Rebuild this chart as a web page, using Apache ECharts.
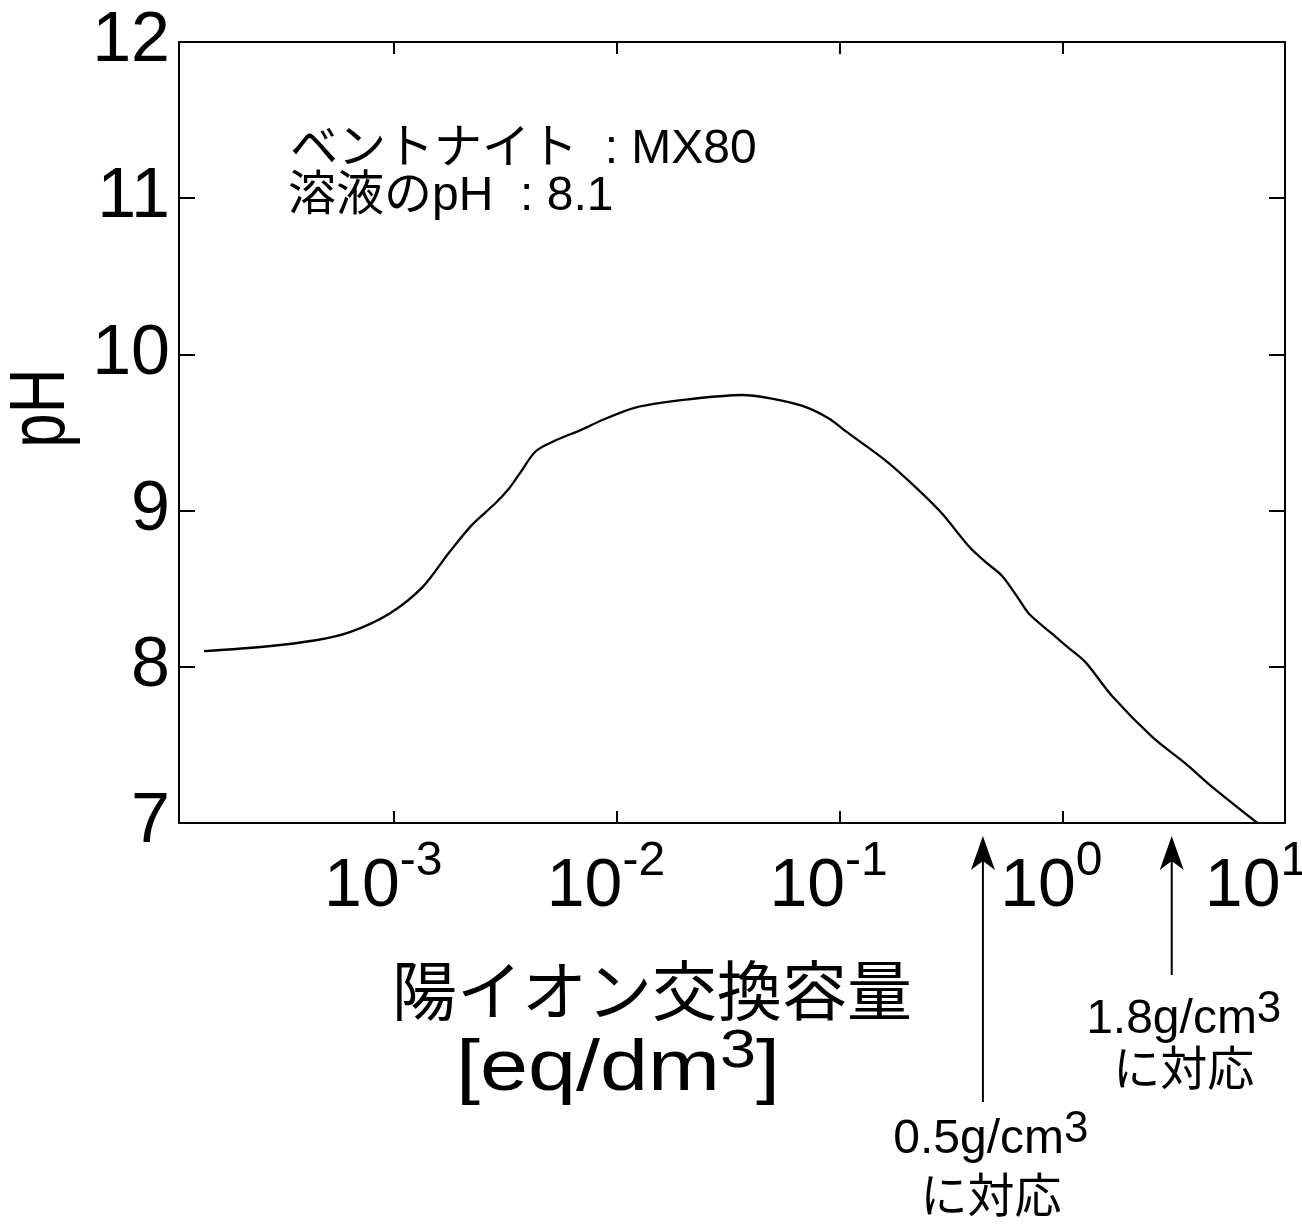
<!DOCTYPE html>
<html>
<head>
<meta charset="utf-8">
<title>陽イオン交換容量とpH</title>
<script src="https://cdn.jsdelivr.net/npm/echarts@6/dist/echarts.min.js"></script>
<style>
  html, body { margin: 0; padding: 0; background: #fff; }
  #chart { width: 1302px; height: 1227px; }
</style>
</head>
<body>
<div id="chart"></div>
<script>
// 陽イオン交換容量 [eq/dm3]
const cecValues = [1.40e-4, 2.65e-4, 4.44e-4, 6.27e-4, 9.5e-4, 1.34e-3, 1.76e-3, 2.24e-3, 2.86e-3, 3.27e-3,
  3.63e-3, 4.32e-3, 5.31e-3, 7.0e-3, 8.6e-3, 1.21e-2, 2.03e-2, 3.66e-2, 4.82e-2, 6.81e-2,
  8.95e-2, 0.106, 0.161, 0.227, 0.289, 0.381, 0.453, 0.538, 0.640, 0.708,
  0.902, 1.07, 1.27, 1.68, 2.54, 3.58, 4.72, 7.52];
// pH
const phValues = [8.10, 8.13, 8.17, 8.22, 8.34, 8.51, 8.73, 8.91, 9.05, 9.14,
  9.23, 9.38, 9.45, 9.52, 9.58, 9.66, 9.71, 9.74, 9.72, 9.67,
  9.59, 9.51, 9.32, 9.13, 8.98, 8.77, 8.67, 8.58, 8.43, 8.34,
  8.21, 8.12, 8.03, 7.81, 7.55, 7.38, 7.23, 7.0];
// 乾燥密度に対応する陽イオン交換容量
const densityCec = [0.44, 3.1];
const densityLabels = ['0.5g/cm', '1.8g/cm'];
// 軸の範囲
const xRange = [1.08e-4, 10];
const yRange = [7, 12];

const chart = echarts.init(document.getElementById('chart'));

const black = '#000';
const latin = '"Liberation Sans", Arial, Helvetica, sans-serif';
const jp = '"Liberation Sans", "Noto Sans CJK JP", sans-serif';

// 10のべき乗ラベル（右端のラベルは枠内に寄せる）
const powerLabel = (v) => {
  const lg = Math.log10(v);
  const e = Math.round(lg);
  if (Math.abs(lg - e) > 1e-6) return '';
  const edge = Math.abs(lg - Math.log10(xRange[1])) < 1e-6;
  return '{b|10}{' + (edge ? 'se' : 's') + '|' + e + '}';
};

const xAxisBase = {
  type: 'log',
  logBase: 10,
  min: xRange[0],
  max: xRange[1],
  axisLine: { show: true, lineStyle: { color: black, width: 2 } },
  axisTick: { show: true, inside: true, length: 12, lineStyle: { color: black, width: 2 } },
  minorTick: { show: false },
  splitLine: { show: false }
};

const yAxisBase = {
  type: 'value',
  min: yRange[0],
  max: yRange[1],
  interval: 1,
  axisLine: { show: true, lineStyle: { color: black, width: 2 } },
  axisTick: { show: true, inside: true, length: 16, lineStyle: { color: black, width: 2 } },
  splitLine: { show: false }
};

const supStyle = { fontFamily: latin, fontSize: 48, lineHeight: 48, color: black, verticalAlign: 'top' };

chart.setOption({
  backgroundColor: '#fff',
  animation: false,
  grid: { left: 179, right: 17, top: 42, bottom: 404, containLabel: false, outerBoundsMode: 'none' },
  xAxis: [
    {
      ...xAxisBase,
      position: 'bottom',
      axisLabel: {
        showMinLabel: false,
        margin: 15,
        color: black,
        formatter: powerLabel,
        rich: {
          b: { fontFamily: latin, fontSize: 68, lineHeight: 98, color: black },
          s: { ...supStyle, padding: [0, 22, 0, 0] },
          se: { ...supStyle, padding: [0, 58, 0, 0] }
        }
      }
    },
    { ...xAxisBase, position: 'top', axisLabel: { show: false } }
  ],
  yAxis: [
    {
      ...yAxisBase,
      position: 'left',
      axisLabel: { margin: 9, color: black, fontFamily: latin, fontSize: 70 }
    },
    { ...yAxisBase, position: 'right', axisLabel: { show: false } }
  ],
  series: [
    {
      type: 'line',
      data: cecValues.map((c, i) => [c, phValues[i]]),
      symbol: 'none',
      smooth: 0.3,
      lineStyle: { color: black, width: 2.3 }
    }
  ]
});

// 矢印と注記はスケールから位置を求める
const baseY = chart.convertToPixel({ yAxisIndex: 0 }, yRange[0]);
const arrowEnds = [1102, 975];
const textOffsets = [[8, 1140, 1199], [12, 1020, 1072]];
const graphics = [];

densityCec.forEach((v, i) => {
  const x = chart.convertToPixel({ xAxisIndex: 0 }, v);
  const tipY = baseY + 13;
  graphics.push({
    type: 'line',
    shape: { x1: x, y1: tipY + 14, x2: x, y2: arrowEnds[i] },
    style: { stroke: black, lineWidth: 2 }
  });
  graphics.push({
    type: 'polygon',
    shape: { points: [[x, tipY], [x - 12, tipY + 34], [x, tipY + 25], [x + 12, tipY + 34]] },
    style: { fill: black }
  });
  const [dx, y1, y2] = textOffsets[i];
  graphics.push({
    type: 'text',
    x: x + dx,
    y: y1,
    style: {
      text: '{a|' + densityLabels[i] + '}{s|3}',
      textAlign: 'center',
      textVerticalAlign: 'middle',
      rich: {
        a: { fontFamily: latin, fontSize: 48, lineHeight: 64, fill: black },
        s: { fontFamily: latin, fontSize: 44, lineHeight: 44, fill: black, verticalAlign: 'top' }
      }
    }
  });
  graphics.push({
    type: 'text',
    x: x + dx,
    y: y2,
    style: { text: 'に対応', font: '47px ' + jp, fill: black, textAlign: 'center', textVerticalAlign: 'middle' }
  });
});

// 軸タイトル
graphics.push({
  type: 'text',
  x: 43,
  y: 408,
  rotation: Math.PI / 2,
  scaleY: 1.25,
  style: { text: 'pH', font: '62px ' + latin, fill: black, textAlign: 'center', textVerticalAlign: 'middle' }
});
graphics.push({
  type: 'text',
  x: 652,
  y: 990,
  style: { text: '陽イオン交換容量', font: '65px "Noto Sans CJK JP", sans-serif', fill: black, textAlign: 'center', textVerticalAlign: 'middle' }
});
graphics.push({
  type: 'text',
  x: 618,
  y: 1070,
  scaleX: 1.2,
  style: {
    text: '{a|[eq/dm}{s|3}{a|]}',
    textAlign: 'center',
    textVerticalAlign: 'middle',
    rich: {
      a: { fontFamily: latin, fontSize: 72, lineHeight: 90, fill: black },
      s: { fontFamily: latin, fontSize: 54, lineHeight: 54, fill: black, verticalAlign: 'top' }
    }
  }
});

// 試料条件
graphics.push({
  type: 'text',
  x: 290,
  y: 150,
  style: { text: 'ベントナイト  : MX80', font: '48px ' + jp, fill: black, textAlign: 'left', textVerticalAlign: 'middle' }
});
graphics.push({
  type: 'text',
  x: 288,
  y: 197,
  style: { text: '溶液のpH  : 8.1', font: '48px ' + jp, fill: black, textAlign: 'left', textVerticalAlign: 'middle' }
});

chart.setOption({ graphic: graphics });
</script>
</body>
</html>
